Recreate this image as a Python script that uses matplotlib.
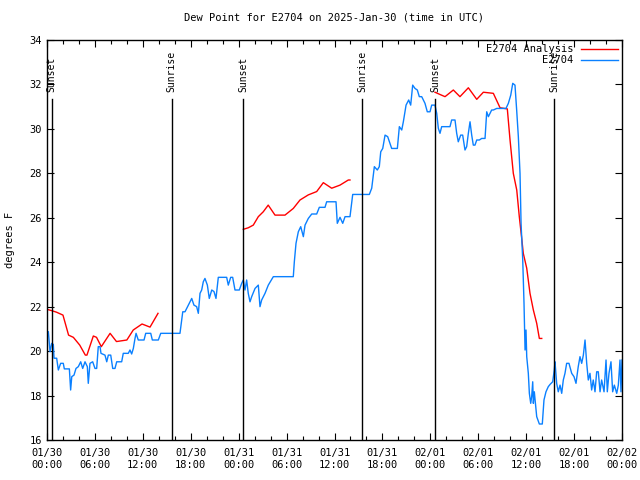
import numpy as np
import matplotlib
matplotlib.use("Agg")
import matplotlib.pyplot as plt
from matplotlib.ticker import MultipleLocator

# hours since 2025-01-30 00:00 UTC
analysis_hours = [
    [0.0, 0.6, 1.2, 2.0, 2.7, 3.3, 4.1, 4.8, 5.0, 5.8, 6.2, 6.8, 7.9, 8.7,
     10.0, 10.8, 11.9, 12.9, 13.9],
    [24.58, 25.2, 25.83, 26.46, 27.08, 27.7, 28.55, 29.8, 30.84, 31.68,
     32.72, 33.77, 34.6, 35.65, 36.69, 37.73, 37.94],
    [48.58, 49.2, 49.84, 50.88, 51.71, 52.76, 53.81, 54.64, 55.89, 56.73,
     57.64, 57.98, 58.39, 58.82, 59.14, 59.44, 59.64, 60.07, 60.48, 60.9,
     61.32, 61.65, 61.95],
]
analysis_dew = [
    [21.88, 21.82, 21.75, 21.62, 20.72, 20.62, 20.27, 19.82, 19.82, 20.68,
     20.62, 20.2, 20.8, 20.43, 20.5, 20.95, 21.22, 21.08, 21.7],
    [25.48, 25.55, 25.67, 26.05, 26.27, 26.57, 26.12, 26.12, 26.42, 26.8,
     27.03, 27.18, 27.58, 27.33, 27.47, 27.7, 27.7],
    [31.65, 31.55, 31.45, 31.75, 31.45, 31.85, 31.33, 31.65, 31.6, 30.95,
     30.9, 29.5, 28.0, 27.25, 26.05, 25.08, 24.4, 23.73, 22.6, 21.85,
     21.25, 20.57, 20.57],
]

obs_hours = [
    0.17, 0.38, 0.59, 0.79, 0.88, 1.21, 1.42, 1.71, 2.04, 2.17, 2.8, 2.88,
    2.96, 3.1, 3.38, 3.63, 3.92, 4.22, 4.47, 4.76, 5.05, 5.17, 5.38, 5.72,
    6.01, 6.22, 6.42, 6.64, 6.76, 7.26, 7.48, 7.68, 7.98, 8.23, 8.51, 8.73,
    9.35, 9.55, 10.18, 10.39, 10.6, 10.81, 11.02, 11.15, 11.43, 12.15,
    12.36, 12.99, 13.19, 13.94, 14.24, 16.65, 17.0, 17.28, 17.7, 18.12,
    18.4, 18.74, 18.95, 19.16, 19.37, 19.57, 19.78, 20.08, 20.32, 20.63,
    20.91, 21.16, 21.45, 22.5, 22.7, 23.0, 23.25, 23.54, 24.08, 24.38,
    24.58, 24.79, 25.0, 25.2, 25.42, 25.63, 26.05, 26.46, 26.67, 26.88,
    27.3, 27.71, 28.34, 30.84, 30.97, 31.18, 31.47, 31.77, 32.1, 32.31,
    32.72, 33.15, 33.77, 34.1, 34.81, 35.02, 36.19, 36.35, 36.69, 37.03,
    37.32, 37.94, 38.28, 40.36, 40.66, 40.99, 41.36, 41.61, 41.79, 42.04,
    42.33, 42.66, 43.16, 43.87, 44.12, 44.42, 44.62, 44.96, 45.29, 45.54,
    45.79, 46.08, 46.37, 46.62, 46.92, 47.12, 47.33, 47.62, 47.96, 48.17,
    48.58, 48.8, 49.0, 49.21, 49.42, 50.46, 50.67, 51.09, 51.3, 51.5, 51.8,
    52.05, 52.34, 52.55, 52.76, 52.97, 53.18, 53.38, 53.59, 53.81, 54.14,
    54.43, 54.85, 55.06, 55.27, 55.68, 55.89, 56.31, 57.47, 57.77, 58.07,
    58.32, 58.6, 58.81, 59.02, 59.23, 59.36, 59.57, 59.73, 59.86, 59.98,
    60.07, 60.27, 60.4, 60.57, 60.69, 60.82, 60.9, 61.02, 61.32, 61.65,
    62.02, 62.23, 62.48, 62.77, 62.99, 63.32, 63.52, 63.61, 63.82, 64.02,
    64.24, 64.45, 64.65, 64.86, 65.07, 65.36, 65.7, 65.99, 66.24, 66.52,
    66.74, 66.95, 67.16, 67.37, 67.58, 67.78, 67.99, 68.2, 68.4, 68.62,
    68.83, 69.03, 69.25, 69.45, 69.75, 70.0, 70.16, 70.37, 70.62, 70.83,
    71.04, 71.34, 71.54, 71.75, 71.87, 72.0,
]
obs_dew = [
    20.87, 19.97, 20.35, 20.3, 19.68, 19.68, 19.15, 19.45, 19.45, 19.2,
    19.2, 18.7, 18.25, 18.85, 18.92, 19.22, 19.3, 19.52, 19.22, 19.52, 19.3,
    18.55, 19.45, 19.52, 19.22, 19.22, 20.2, 20.2, 19.9, 19.82, 19.52,
    19.82, 19.82, 19.22, 19.22, 19.52, 19.52, 19.9, 19.9, 20.05, 19.87,
    20.12, 20.57, 20.8, 20.5, 20.5, 20.8, 20.8, 20.5, 20.5, 20.8, 20.8,
    21.77, 21.77, 22.07, 22.37, 22.07, 22.0, 21.7, 22.6, 22.75, 23.12,
    23.27, 22.97, 22.37, 22.75, 22.68, 22.37, 23.32, 23.32, 22.97, 23.32,
    23.32, 22.75, 22.75, 23.05, 23.2, 22.75, 23.2, 22.6, 22.22, 22.45,
    22.82, 22.97, 22.0, 22.3, 22.6, 22.97, 23.35, 23.35, 24.02, 24.85,
    25.37, 25.6, 25.15, 25.67, 25.97, 26.17, 26.17, 26.47, 26.47, 26.72,
    26.72, 25.75, 26.02, 25.75, 26.05, 26.05, 27.05, 27.05, 27.33, 28.3,
    28.15, 28.3, 28.97, 29.12, 29.72, 29.65, 29.12, 29.12, 30.1, 29.95,
    30.32, 31.07, 31.3, 31.07, 31.97, 31.82, 31.75, 31.45, 31.45, 31.3,
    31.15, 30.77, 30.77, 31.07, 31.07, 30.7, 30.03, 29.8, 30.1, 30.1, 30.4,
    30.4, 29.8, 29.42, 29.72, 29.72, 29.05, 29.2, 29.8, 30.32, 29.72,
    29.27, 29.27, 29.5, 29.5, 29.57, 29.57, 30.77, 30.55, 30.85, 30.85,
    30.92, 30.92, 31.15, 31.52, 32.05, 31.97, 30.85, 29.65, 28.0, 25.75,
    24.1, 22.15, 20.05, 20.95, 19.75, 19.0, 18.1, 17.65, 17.95, 18.62,
    17.65, 18.17, 17.05, 16.72, 16.72, 17.8, 18.17, 18.4, 18.5, 18.62,
    19.15, 19.52, 18.55, 18.17, 18.47, 18.1, 18.7, 19.0, 19.45, 19.45,
    19.0, 18.85, 18.55, 19.3, 19.75, 19.45, 19.82, 20.5, 19.45, 18.7, 19.0,
    18.25, 18.7, 18.17, 19.07, 19.07, 18.17, 18.7, 18.17, 19.6, 18.17,
    19.0, 19.52, 18.17, 18.47, 18.1, 18.47, 19.6, 18.17, 19.6,
]

sun_hours = [0.6, 15.6, 24.6, 39.5, 48.6, 63.5]
sun_labels = ["Sunset", "Sunrise", "Sunset", "Sunrise", "Sunset", "Sunrise"]

tick_hours = list(range(0, 73, 6))
tick_labels = ["01/30\n00:00", "01/30\n06:00", "01/30\n12:00", "01/30\n18:00",
               "01/31\n00:00", "01/31\n06:00", "01/31\n12:00", "01/31\n18:00",
               "02/01\n00:00", "02/01\n06:00", "02/01\n12:00", "02/01\n18:00",
               "02/02\n00:00"]

plt.rcParams['font.family'] = ['DejaVu Sans Mono']
fig = plt.figure(figsize=(6.4, 4.8), dpi=100)
ax = fig.add_axes([47 / 640, 40 / 480, 575 / 640, 400 / 480])

red = '#ff0000'
blue = '#0a80ff'

for i, (hx, dy) in enumerate(zip(analysis_hours, analysis_dew)):
    ax.plot(hx, dy, color=red, lw=1, label='E2704 Analysis' if i == 0 else None)
ax.plot(obs_hours, obs_dew, color=blue, lw=1, label='E2704')

for h, lab in zip(sun_hours, sun_labels):
    ax.plot([h, h], [16, 31.35], color='black', lw=1)
    ax.text(h, 31.68, lab, rotation=90, ha='center', va='bottom', fontsize=7)

ax.set_xlim(0, 72)
ax.set_ylim(16, 34)
ax.set_xticks(tick_hours)
ax.set_xticklabels(tick_labels)
ax.xaxis.set_minor_locator(MultipleLocator(2))
ax.set_yticks(range(16, 35, 2))
ax.tick_params(direction='in', top=True, right=True, labelsize=7.5, length=5, width=0.8)
ax.tick_params(which='minor', direction='in', top=True, length=3, width=0.8)
ax.tick_params(axis='x', pad=6)
for s in ax.spines.values():
    s.set_linewidth(1)

ax.set_title('Dew Point for E2704 on 2025-Jan-30 (time in UTC)', fontsize=7.5, pad=14)
fig.text(10 / 640, 240 / 480, 'degrees F', rotation=90, ha='center', va='center', fontsize=7.5)

ax.legend(loc='upper right', markerfirst=False, frameon=False, fontsize=7.5,
          handlelength=3.5, handletextpad=0.8, labelspacing=0.1,
          borderaxespad=0.2, borderpad=0.2)

fig.savefig('out.png', dpi=100)
